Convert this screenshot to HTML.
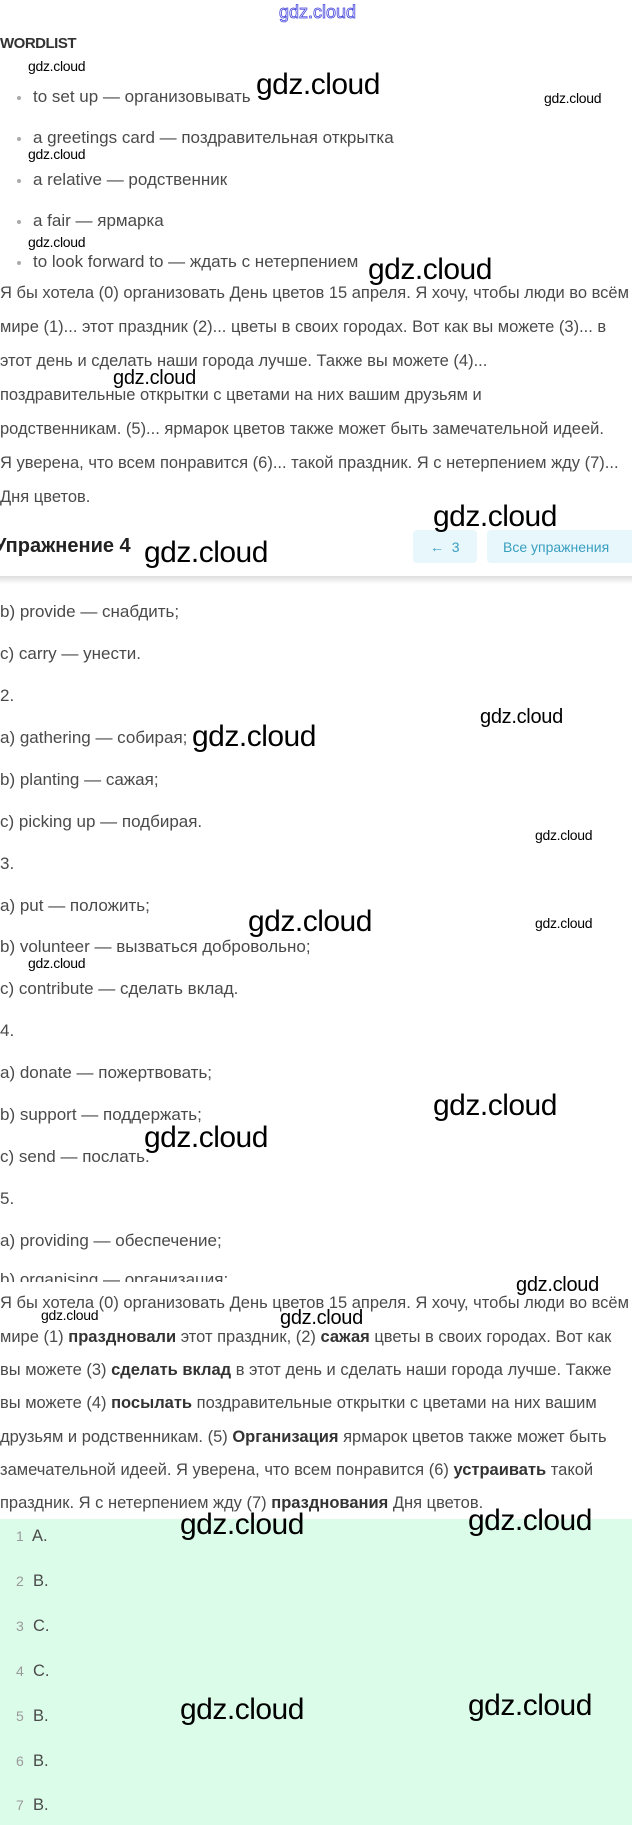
<!DOCTYPE html>
<html><head><meta charset="utf-8"><style>
html,body{margin:0;padding:0;background:#fff;}
body{width:632px;height:1825px;position:relative;overflow:hidden;font-family:"Liberation Sans",sans-serif;color:#4a4a4a;}
.t{position:absolute;white-space:nowrap;line-height:20px;font-size:16.5px;}
.l{font-size:17px;}
.w{position:absolute;white-space:nowrap;color:#000;font-family:"Liberation Sans",sans-serif;}
.big{font-size:30px;line-height:34px;letter-spacing:-0.5px;}
.med{font-size:20px;line-height:24px;letter-spacing:-0.3px;}
.sm{font-size:14px;line-height:18px;letter-spacing:-0.3px;}
.dot{position:absolute;width:4px;height:4px;border-radius:50%;background:#aaa;left:17px;}
b{color:#333;}
.green{position:absolute;left:0;top:1519px;width:632px;height:306px;background:#dcfcea;}
.n{color:#999;font-size:14px;}
</style></head><body>
<div class="t" style="left:279px;top:2px;font-size:18px;color:#fff;-webkit-text-stroke:0.8px #4444dd;">gdz.cloud</div>
<div class="t" style="left:0;top:34px;font-weight:bold;font-size:15px;color:#333;letter-spacing:-0.5px;">WORDLIST</div>

<div class="dot" style="top:96px"></div><div class="t l" style="left:33px;top:87px">to set up — организовывать</div>
<div class="dot" style="top:137px"></div><div class="t l" style="left:33px;top:128px">a greetings card — поздравительная открытка</div>
<div class="dot" style="top:179px"></div><div class="t l" style="left:33px;top:170px">a relative — родственник</div>
<div class="dot" style="top:220px"></div><div class="t l" style="left:33px;top:211px">a fair — ярмарка</div>
<div class="dot" style="top:261px"></div><div class="t l" style="left:33px;top:252px">to look forward to — ждать с нетерпением</div>

<div class="t" style="left:0;top:283px">Я бы хотела (0) организовать День цветов 15 апреля. Я хочу, чтобы люди во всём</div>
<div class="t" style="left:0;top:317px">мире (1)... этот праздник (2)... цветы в своих городах. Вот как вы можете (3)... в</div>
<div class="t" style="left:0;top:351px">этот день и сделать наши города лучше. Также вы можете (4)...</div>
<div class="t" style="left:0;top:385px">поздравительные открытки с цветами на них вашим друзьям и</div>
<div class="t" style="left:0;top:419px">родственникам. (5)... ярмарок цветов также может быть замечательной идеей.</div>
<div class="t" style="left:0;top:453px">Я уверена, что всем понравится (6)... такой праздник. Я с нетерпением жду (7)...</div>
<div class="t" style="left:0;top:487px">Дня цветов.</div>

<div style="position:absolute;left:0;top:576px;width:632px;height:8px;background:linear-gradient(#ddd,#fff);"></div>
<div class="t" style="left:-6px;top:534px;font-size:20px;line-height:24px;font-weight:bold;color:#222;">Упражнение 4</div>
<div style="position:absolute;left:413px;top:530px;width:64px;height:33px;background:#e8f7fb;border-radius:4px;"></div>
<div class="t" style="left:430px;top:537px;color:#3a9fc0;font-size:14px;">←&nbsp; 3</div>
<div style="position:absolute;left:487px;top:530px;width:150px;height:33px;background:#e8f7fb;border-radius:4px;"></div>
<div class="t" style="left:503px;top:537px;color:#3a9fc0;font-size:14px;">Все упражнения</div>

<div class="t l" style="left:0;top:602px">b) provide — снабдить;</div>
<div class="t l" style="left:0;top:644px">c) carry — унести.</div>
<div class="t l" style="left:0;top:686px">2.</div>
<div class="t l" style="left:0;top:728px">a) gathering — собирая;</div>
<div class="t l" style="left:0;top:770px">b) planting — сажая;</div>
<div class="t l" style="left:0;top:812px">c) picking up — подбирая.</div>
<div class="t l" style="left:0;top:854px">3.</div>
<div class="t l" style="left:0;top:896px">a) put — положить;</div>
<div class="t l" style="left:0;top:937px">b) volunteer — вызваться добровольно;</div>
<div class="t l" style="left:0;top:979px">c) contribute — сделать вклад.</div>
<div class="t l" style="left:0;top:1021px">4.</div>
<div class="t l" style="left:0;top:1063px">a) donate — пожертвовать;</div>
<div class="t l" style="left:0;top:1105px">b) support — поддержать;</div>
<div class="t l" style="left:0;top:1147px">c) send — послать.</div>
<div class="t l" style="left:0;top:1189px">5.</div>
<div class="t l" style="left:0;top:1231px">a) providing — обеспечение;</div>
<div class="t l" style="left:0;top:1270px;height:12px;overflow:hidden">b) organising — организация;</div>

<div class="t" style="left:0;top:1293px">Я бы хотела (0) организовать День цветов 15 апреля. Я хочу, чтобы люди во всём</div>
<div class="t" style="left:0;top:1327px">мире (1) <b>праздновали</b> этот праздник, (2) <b>сажая</b> цветы в своих городах. Вот как</div>
<div class="t" style="left:0;top:1360px">вы можете (3) <b>сделать вклад</b> в этот день и сделать наши города лучше. Также</div>
<div class="t" style="left:0;top:1393px">вы можете (4) <b>посылать</b> поздравительные открытки с цветами на них вашим</div>
<div class="t" style="left:0;top:1427px">друзьям и родственникам. (5) <b>Организация</b> ярмарок цветов также может быть</div>
<div class="t" style="left:0;top:1460px">замечательной идеей. Я уверена, что всем понравится (6) <b>устраивать</b> такой</div>
<div class="t" style="left:0;top:1493px">праздник. Я с нетерпением жду (7) <b>празднования</b> Дня цветов.</div>

<div class="green"></div>
<div class="t" style="left:16px;top:1526px"><span class="n">1</span>&nbsp; A.</div>
<div class="t" style="left:16px;top:1571px"><span class="n">2</span>&nbsp; B.</div>
<div class="t" style="left:16px;top:1616px"><span class="n">3</span>&nbsp; C.</div>
<div class="t" style="left:16px;top:1661px"><span class="n">4</span>&nbsp; C.</div>
<div class="t" style="left:16px;top:1706px"><span class="n">5</span>&nbsp; B.</div>
<div class="t" style="left:16px;top:1751px"><span class="n">6</span>&nbsp; B.</div>
<div class="t" style="left:16px;top:1795px"><span class="n">7</span>&nbsp; B.</div>

<div class="w sm" style="left:28px;top:57px">gdz.cloud</div>
<div class="w sm" style="left:28px;top:145px">gdz.cloud</div>
<div class="w sm" style="left:28px;top:233px">gdz.cloud</div>
<div class="w sm" style="left:544px;top:89px">gdz.cloud</div>
<div class="w big" style="left:256px;top:68px">gdz.cloud</div>
<div class="w big" style="left:368px;top:253px">gdz.cloud</div>
<div class="w med" style="left:113px;top:366px">gdz.cloud</div>
<div class="w big" style="left:433px;top:500px">gdz.cloud</div>
<div class="w big" style="left:144px;top:536px">gdz.cloud</div>
<div class="w med" style="left:480px;top:705px">gdz.cloud</div>
<div class="w big" style="left:192px;top:720px">gdz.cloud</div>
<div class="w sm" style="left:535px;top:826px">gdz.cloud</div>
<div class="w big" style="left:248px;top:905px">gdz.cloud</div>
<div class="w sm" style="left:535px;top:914px">gdz.cloud</div>
<div class="w sm" style="left:28px;top:954px">gdz.cloud</div>
<div class="w big" style="left:433px;top:1089px">gdz.cloud</div>
<div class="w big" style="left:144px;top:1121px">gdz.cloud</div>
<div class="w med" style="left:516px;top:1273px">gdz.cloud</div>
<div class="w sm" style="left:41px;top:1306px">gdz.cloud</div>
<div class="w med" style="left:280px;top:1306px">gdz.cloud</div>
<div class="w big" style="left:180px;top:1508px">gdz.cloud</div>
<div class="w big" style="left:468px;top:1504px">gdz.cloud</div>
<div class="w big" style="left:180px;top:1693px">gdz.cloud</div>
<div class="w big" style="left:468px;top:1689px">gdz.cloud</div>
</body></html>
